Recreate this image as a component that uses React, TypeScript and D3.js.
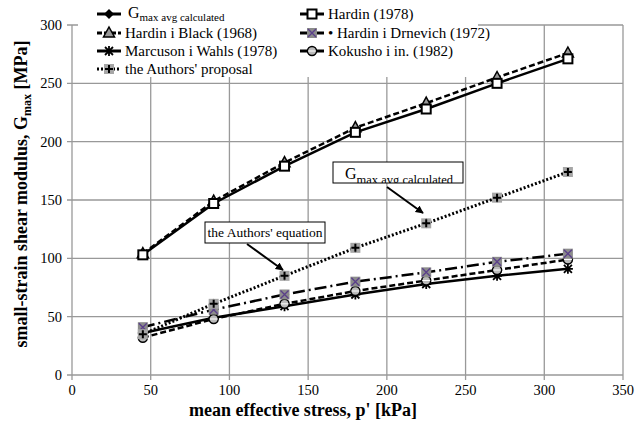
import * as d3 from 'd3';

const stress = [45, 90, 135, 180, 225, 270, 315];

const gmaxAvg = [35, 61, 85, 109, 130, 152, 174];
const hardin1978 = [103, 147, 179, 208, 228, 250, 271];
const hardinBlack = [104, 149, 182, 212, 233, 255, 276];
const hardinDrnevich = [41, 56, 69, 80, 88, 97, 104];
const marcuson = [36, 49, 59, 69, 78, 85, 91];
const kokusho = [32, 48, 61, 72, 81, 90, 99];
const authors = [35, 61, 85, 109, 130, 152, 174];

const xTicks = [0, 50, 100, 150, 200, 250, 300, 350];
const yTicks = [0, 50, 100, 150, 200, 250, 300];

const W = 640;
const H = 421;
const margin = { top: 25, right: 17, bottom: 46, left: 72 };
const innerW = W - margin.left - margin.right;
const innerH = H - margin.top - margin.bottom;

const x = d3.scaleLinear().domain([0, 350]).range([0, innerW]);
const y = d3.scaleLinear().domain([0, 300]).range([innerH, 0]);

const font = "'Liberation Serif', 'Times New Roman', serif";

type Marker = 'diamond' | 'square' | 'triangle' | 'xsquare' | 'star' | 'circle' | 'plus';

interface Series {
  name: string;
  values: number[];
  dash: string;
  marker: Marker;
  line: boolean;
}

const series: Series[] = [
  { name: 'hardinBlack', values: hardinBlack, dash: '6,3', marker: 'triangle', line: true },
  { name: 'hardin1978', values: hardin1978, dash: '', marker: 'square', line: true },
  { name: 'marcuson', values: marcuson, dash: '', marker: 'star', line: true },
  { name: 'kokusho', values: kokusho, dash: '6,3', marker: 'circle', line: true },
  { name: 'drnevich', values: hardinDrnevich, dash: '12,4,2,4', marker: 'xsquare', line: true },
  { name: 'gmax', values: gmaxAvg, dash: '', marker: 'diamond', line: false },
  { name: 'authors', values: authors, dash: '2,2', marker: 'plus', line: true },
];

const MarkerShape = ({ type, cx, cy }: { type: Marker; cx: number; cy: number }) => {
  const s = 5;
  switch (type) {
    case 'diamond':
      return <path d={`M${cx},${cy - s}L${cx + s},${cy}L${cx},${cy + s}L${cx - s},${cy}Z`} fill="#000" />;
    case 'square':
      return <rect x={cx - 4.5} y={cy - 4.5} width={9} height={9} fill="#fff" stroke="#000" strokeWidth={2} />;
    case 'triangle':
      return <path d={`M${cx},${cy - 6}L${cx + 5.5},${cy + 4}L${cx - 5.5},${cy + 4}Z`} fill="#999" stroke="#000" strokeWidth={1.5} />;
    case 'xsquare':
      return (
        <g>
          <rect x={cx - 5} y={cy - 5} width={10} height={10} fill="#8c8c8c" />
          <path d={`M${cx - 4},${cy - 4}L${cx + 4},${cy + 4}M${cx + 4},${cy - 4}L${cx - 4},${cy + 4}`} stroke="#5a3f8a" strokeWidth={1.3} />
        </g>
      );
    case 'star':
      return (
        <path
          d={`M${cx - 4},${cy - 4}L${cx + 4},${cy + 4}M${cx + 4},${cy - 4}L${cx - 4},${cy + 4}M${cx},${cy - 5}L${cx},${cy + 5}M${cx - 5},${cy}L${cx + 5},${cy}`}
          stroke="#000"
          strokeWidth={1.8}
        />
      );
    case 'circle':
      return (
        <g>
          <circle cx={cx} cy={cy} r={4.5} fill="#bbb" stroke="#000" strokeWidth={1.5} />
          <line x1={cx - 4} x2={cx + 4} y1={cy} y2={cy} stroke="#fff" strokeWidth={1} />
        </g>
      );
    case 'plus':
      return (
        <g>
          <rect x={cx - 5} y={cy - 5} width={10} height={10} fill="#a6a6a6" />
          <path d={`M${cx - 4},${cy}L${cx + 4},${cy}M${cx},${cy - 4}L${cx},${cy + 4}`} stroke="#000" strokeWidth={2} />
        </g>
      );
  }
  return null;
};

const legendItems: { label: string; marker: Marker; dash: string; col: number; row: number }[] = [
  { label: 'gmax', marker: 'diamond', dash: '', col: 0, row: 0 },
  { label: 'Hardin (1978)', marker: 'square', dash: '', col: 1, row: 0 },
  { label: 'Hardin i Black (1968)', marker: 'triangle', dash: '5,2', col: 0, row: 1 },
  { label: '• Hardin i Drnevich (1972)', marker: 'xsquare', dash: '', col: 1, row: 1 },
  { label: 'Marcuson i Wahls (1978)', marker: 'star', dash: '', col: 0, row: 2 },
  { label: 'Kokusho i in. (1982)', marker: 'circle', dash: '', col: 1, row: 2 },
  { label: "the Authors' proposal", marker: 'plus', dash: '2,2', col: 0, row: 3 },
];

const legendRowY = [14, 33, 51, 69];

export default function App() {
  const line = d3
    .line<number>()
    .x((_, i) => x(stress[i]))
    .y((d) => y(d));

  return (
    <svg width={W} height={H} style={{ position: 'absolute', left: 0, top: 0, fontFamily: font }}>
      <defs>
        <marker id="arrow" viewBox="0 0 10 10" refX="9" refY="5" markerWidth="4" markerHeight="4" orient="auto">
          <path d="M0,0L10,5L0,10Z" fill="#000" />
        </marker>
        <clipPath id="boxclip">
          <rect x={333} y={162} width={130} height={21} />
        </clipPath>
      </defs>
      <rect width={W} height={H} fill="#fff" />
      <g transform={`translate(${margin.left},${margin.top})`}>
        {/* grid */}
        {xTicks.map((t) => (
          <line key={'gx' + t} x1={x(t)} x2={x(t)} y1={0} y2={innerH + 5} stroke="#999" strokeWidth={1.3} />
        ))}
        {yTicks.map((t) => (
          <line key={'gy' + t} x1={-5} x2={innerW} y1={y(t)} y2={y(t)} stroke="#999" strokeWidth={1.3} />
        ))}
        {xTicks.map((t) => (
          <text key={'tx' + t} x={x(t)} y={innerH + 20} textAnchor="middle" fontSize={14.5}>
            {t}
          </text>
        ))}
        {yTicks.map((t) => (
          <text key={'ty' + t} x={-10} y={y(t) + 5} textAnchor="end" fontSize={14.5}>
            {t}
          </text>
        ))}

        {/* series lines */}
        {series.filter((s) => s.line).map((s) => (
          <path
            key={s.name}
            d={line(s.values) as string}
            fill="none"
            stroke="#000"
            strokeWidth={s.marker === 'plus' ? 3 : 2.5}
            strokeDasharray={s.dash}
          />
        ))}
        {series.map((s) =>
          s.values.map((v, i) => (
            <MarkerShape key={s.name + i} type={s.marker} cx={x(stress[i])} cy={y(v)} />
          ))
        )}
      </g>

      {/* legend */}
      <rect x={78} y={0} width={400} height={77} fill="#fff" />
      {legendItems.map((it) => {
        const lx = it.col === 0 ? 97 : 300;
        const ly = legendRowY[it.row];
        return (
          <g key={it.col + '-' + it.row}>
            <line x1={lx} x2={lx + 24} y1={ly} y2={ly} stroke="#000" strokeWidth={3} strokeDasharray={it.dash} />
            <MarkerShape type={it.marker} cx={lx + 12} cy={ly} />
            {it.label === 'gmax' ? (
              <text x={lx + 31} y={ly + 4} fontSize={16}>
                G<tspan fontSize={11} dy={2.5}>max avg calculated</tspan>
              </text>
            ) : (
              <text x={lx + 28} y={ly + 5} fontSize={15}>
                {it.label}
              </text>
            )}
          </g>
        );
      })}

      {/* annotations */}
      <rect x={205} y={222} width={120} height={21} fill="#fff" stroke="#000" strokeWidth={1} />
      <text x={265} y={237} textAnchor="middle" fontSize={13.5}>
        the Authors' equation
      </text>
      <line x1={247} y1={244} x2={283} y2={270} stroke="#000" strokeWidth={2} markerEnd="url(#arrow)" />

      <rect x={333} y={162} width={130} height={21} fill="#fff" stroke="#000" strokeWidth={1} />
      <text x={345} y={179} fontSize={16} clipPath="url(#boxclip)">
        G<tspan fontSize={12.5} dy={5}>max avg calculated</tspan>
      </text>
      <line x1={387} y1={187} x2={423} y2={213} stroke="#000" strokeWidth={2} markerEnd="url(#arrow)" />

      {/* axis titles */}
      <text x={303} y={416} textAnchor="middle" fontSize={18} fontWeight="bold">
        mean effective stress, p' [kPa]
      </text>
      <text transform="translate(27,194) rotate(-90)" textAnchor="middle" fontSize={18} fontWeight="bold">
        small-strain shear modulus, G<tspan fontSize={12} dy={4}>max</tspan>
        <tspan dy={-4}> [MPa]</tspan>
      </text>
    </svg>
  );
}
